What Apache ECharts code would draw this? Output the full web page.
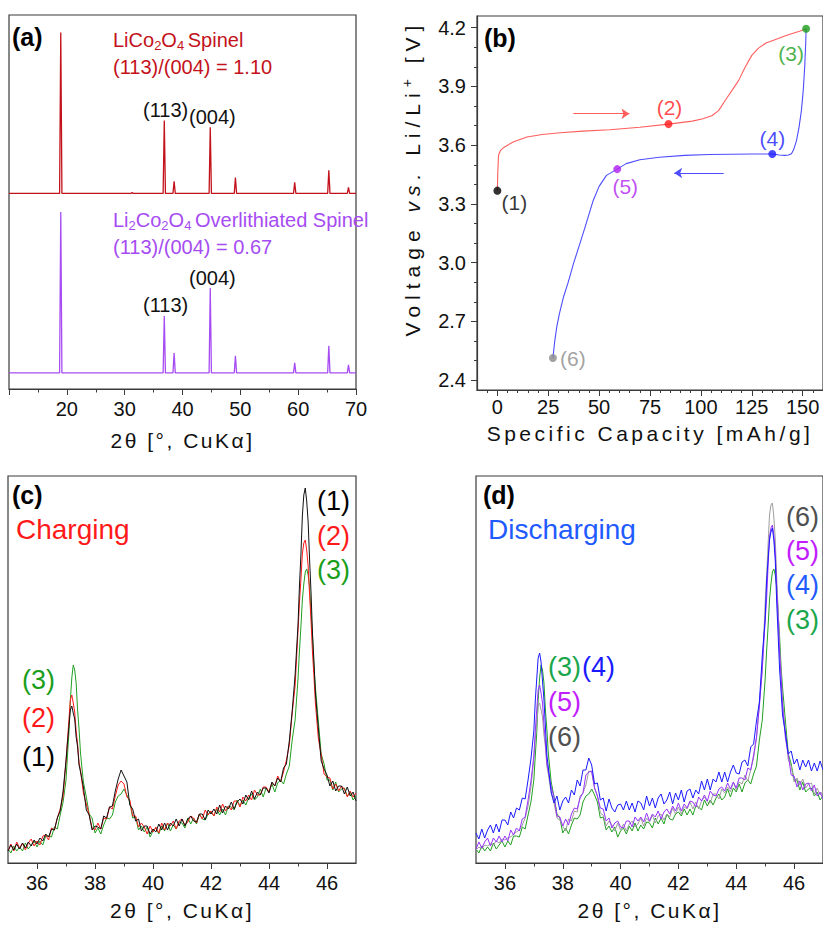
<!DOCTYPE html>
<html><head><meta charset="utf-8">
<script src="https://cdn.jsdelivr.net/npm/echarts@6/dist/echarts.min.js"></script>
<style>
html,body{margin:0;padding:0;background:#fff;}
#chart{width:823px;height:932px;}
text[style*="SpacedA"]{letter-spacing:3.5px;}
text[style*="SpacedB"]{letter-spacing:2.5px;}
text[style*="SpacedC"]{letter-spacing:6px;}
</style></head><body><div id="chart"></div>
<script>
// ---------------- Panel (a): XRD reference patterns ----------------
const xrdRange = [10, 70];
const xrdTicks = [20, 30, 40, 50, 60, 70];
const xrdPeaks2Theta = [18.95, 31.3, 36.85, 38.55, 44.8, 49.15, 59.4, 65.3, 68.7];
const spinelIntensity = [100, 0.6, 45.3, 7.5, 41.0, 9.9, 6.8, 14.3, 3.7];
const overlithIntensity = [100, 0, 35.4, 12.4, 52.8, 10.6, 6.2, 16.8, 5.0];
const spinelOffset = 121.5;
const overlithOffset = 10;

// ---------------- Panel (b): voltage profile ----------------
const chargeCap = [0, 0.2, 0.6, 1.5, 3.3, 8, 14.6, 22, 30.9, 42, 55.2, 70, 84.1, 95.8, 101, 105.6, 108.8, 112, 115.3, 118.5, 121.8, 125, 128.3, 132, 136.4, 140.5, 144.5, 148.5, 151.7];
const chargeV = [3.368, 3.46, 3.55, 3.572, 3.59, 3.618, 3.642, 3.655, 3.664, 3.672, 3.679, 3.692, 3.708, 3.723, 3.735, 3.752, 3.778, 3.83, 3.88, 3.93, 4.0, 4.059, 4.096, 4.122, 4.139, 4.155, 4.169, 4.182, 4.195];
const dischargeCap = [151.7, 151.5, 151.0, 150.3, 149.4, 148.2, 147.0, 145.6, 144.5, 143, 141.3, 138.5, 135.1, 125, 115, 103.9, 92, 79.6, 70, 63.3, 58.9, 53.6, 50, 47.1, 43.1, 40, 37.4, 34.8, 32.5, 30.5, 29.2, 28.2, 27.3];
const dischargeV = [4.195, 4.118, 3.999, 3.88, 3.778, 3.69, 3.625, 3.578, 3.557, 3.55, 3.548, 3.55, 3.555, 3.555, 3.554, 3.553, 3.548, 3.539, 3.526, 3.506, 3.478, 3.446, 3.39, 3.318, 3.182, 3.08, 2.995, 2.9, 2.825, 2.74, 2.672, 2.6, 2.513];
const stateCap = [0, 84.1, 151.7, 135.1, 58.9, 27.3];
const stateV = [3.368, 3.708, 4.195, 3.555, 3.478, 2.513];
const stateLabels = ['(1)', '(2)', '(3)', '(4)', '(5)', '(6)'];
const chargeArrowCap = [37.3, 64.9];
const chargeArrowV = 3.761;
const dischargeArrowCap = [111.2, 86.9];
const dischargeArrowV = 3.458;
const capTicks = [0, 25, 50, 75, 100, 125, 150];
const capMinor = [-5, 5, 10, 15, 20, 30, 35, 40, 45, 55, 60, 65, 70, 80, 85, 90, 95, 105, 110, 115, 120, 130, 135, 140, 145, 155];
const voltTicks = [2.4, 2.7, 3.0, 3.3, 3.6, 3.9, 4.2];
const voltMinor = [2.5, 2.6, 2.8, 2.9, 3.1, 3.2, 3.4, 3.5, 3.7, 3.8, 4.0, 4.1];

// ---------------- Panels (c)/(d): operando XRD (a.u.) ----------------
const thetaTicks = [36, 38, 40, 42, 44, 46];
const thetaMinor = [37, 39, 41, 43, 45];
const twoTheta = [35.0,35.1,35.2,35.3,35.4,35.5,35.6,35.7,35.8,35.9,36.0,36.1,36.2,36.3,36.4,36.5,36.6,36.7,36.8,36.9,37.0,
37.05,37.1,37.15,37.2,37.25,37.3,37.35,37.4,37.45,37.5,
37.6,37.7,37.8,37.9,38.0,38.1,38.2,38.3,38.4,38.5,38.6,38.7,38.8,38.9,39.0,39.1,39.2,39.3,39.4,39.5,39.6,39.7,39.8,39.9,40.0,
40.1,40.2,40.3,40.4,40.5,40.6,40.7,40.8,40.9,41.0,41.1,41.2,41.3,41.4,41.5,41.6,41.7,41.8,41.9,42.0,42.1,42.2,42.3,42.4,42.5,42.6,42.7,42.8,42.9,43.0,43.1,43.2,43.3,43.4,43.5,43.6,43.7,43.8,43.9,44.0,44.1,44.2,44.3,44.4,44.5,44.6,44.7,44.8,44.9,45.0,
45.05,45.1,45.15,45.2,45.25,45.3,45.35,45.4,45.45,45.5,45.55,45.6,
45.7,45.8,45.9,46.0,46.1,46.2,46.3,46.4,46.5,46.6,46.7,46.8,46.9,47.0];
const state1 = [12,18,13,19,14,20,15,21,17,23,19,25,22,29,26,34,33,45,52,72,102,
120,136,153,157,150,144,126,116,98,91,
76,53,48,33,37,36,34,47,45,56,57,72,84,93,87,81,58,54,42,44,32,37,37,29,34,
31,39,33,40,33,40,37,44,37,44,37,44,47,42,41,49,49,43,53,49,54,49,58,50,57,54,61,54,61,64,59,68,63,72,64,71,68,75,75,70,81,77,85,81,95,99,122,152,188,238,
277,308,347,368,375,362,341,303,270,229,202,170,
135,102,94,88,77,82,72,77,77,69,76,67,71,62];
const state2 = [12,19,12,21,15,20,13,20,24,17,22,18,27,28,23,35,33,45,54,67,102,
122,143,163,168,160,151,132,119,100,93,
70,59,48,35,33,40,34,45,44,56,54,67,78,82,79,66,63,47,47,36,40,36,29,37,31,
36,30,40,33,40,37,42,34,42,44,38,41,47,45,40,49,44,53,48,52,47,56,51,59,52,57,53,62,62,56,66,62,68,63,73,68,68,76,76,71,80,77,87,81,91,103,118,150,177,232,
260,283,309,320,323,313,297,268,242,210,187,160,
125,108,89,86,85,74,79,72,77,74,66,72,66,70];
const state3 = [14,10,17,12,16,12,20,14,18,22,16,22,18,27,27,26,36,34,48,61,83,
107,130,163,185,198,193,180,153,134,110,
81,66,49,45,30,35,29,38,45,44,48,61,67,69,74,68,61,45,46,33,37,31,36,26,32,
35,29,37,32,40,32,38,34,41,40,35,45,39,45,39,49,44,43,49,51,47,54,48,54,48,57,56,53,63,57,63,58,65,69,63,66,74,66,75,71,79,71,80,83,79,89,97,123,143,184,
212,236,263,279,291,294,288,276,250,226,196,176,
142,109,99,83,83,73,81,71,74,75,67,71,63,67];
const state4 = [30,24,34,25,33,38,30,39,31,43,43,38,51,45,55,53,65,64,83,104,132,
162,184,205,210,201,182,163,137,108,96,
71,60,67,53,62,66,60,73,68,83,77,93,93,105,98,79,80,63,65,52,64,55,51,58,59,
53,62,53,60,51,62,60,53,67,57,65,55,65,69,59,63,71,59,70,63,73,61,72,74,65,73,69,82,73,84,73,84,81,91,81,91,81,91,98,90,89,101,103,97,116,119,142,161,207,244,
282,303,323,331,335,323,302,260,227,193,172,148,
130,109,112,99,104,93,103,96,103,92,100,92,102,93];
const state5 = [14,21,15,21,25,17,25,21,27,21,27,22,33,28,35,32,44,46,63,82,107,
132,153,173,178,170,160,138,121,100,92,
76,66,47,46,37,44,38,49,55,54,65,70,88,91,92,75,67,55,54,42,45,35,40,42,36,
35,42,42,36,46,42,46,41,50,42,49,46,52,44,51,54,49,57,52,60,52,59,55,62,61,56,66,62,68,62,72,68,67,74,76,72,80,74,81,75,85,85,83,95,93,108,126,157,194,242,
264,296,326,335,338,328,310,274,245,210,186,158,
125,108,88,87,76,82,73,79,80,72,78,67,71,64];
const state6 = [13,16,14,18,17,19,18,22,20,24,23,25,26,29,31,33,38,45,57,76,104,
124,140,157,160,153,146,128,116,97,89,
70,60,45,43,37,32,44,42,52,51,67,70,78,92,91,75,67,50,48,37,42,38,32,40,33,
39,32,39,42,36,39,45,37,45,41,48,40,47,49,43,49,46,55,49,56,49,56,54,61,54,61,54,62,66,61,60,69,69,64,74,70,76,71,81,73,81,79,88,82,93,105,125,159,193,260,
287,318,348,358,360,346,323,285,252,216,191,163,
132,103,97,81,85,78,84,75,79,80,69,75,68,72];

// ---------------- styles ----------------
const FONT = "'Liberation Sans', Arial, sans-serif";
const FRAME = '#3a3a3a';
const TXT = '#111';
const C_SPINEL = '#c3121b';
const C_OVER = '#a64cf2';
const C_CH = '#ff5e5e';
const C_DIS = '#4d4dff';
const stateColors = ['#000000', '#ff1a1a', '#1a9e1a', '#1a1aff', '#b01ef0', '#8a8a8a'];
const stateLabelOffsets = [[17, 12], [1, -17], [-15, 25], [0, -16], [8, 17], [20, 0]];

function stickPattern(pos, inten, offset) {
  const pts = [[xrdRange[0], offset]];
  pos.forEach((p, i) => {
    if (inten[i] <= 0) return;
    pts.push([p - 0.2, offset], [p, offset + inten[i]], [p + 0.2, offset]);
  });
  pts.push([xrdRange[1], offset]);
  return pts;
}
const zip = (xs, ys) => xs.map((x, i) => [x, ys[i]]);

const mctx = document.createElement('canvas').getContext('2d');
function textW(t, size, style) { mctx.font = (style || '') + ' ' + size + 'px "Liberation Sans"'; return mctx.measureText(t).width; }
const ySp = 6;
const yTokens = [['a', 'Voltage ', 21, 'normal'], ['b', 'vs. ', 21, 'italic'], ['c', 'Li/Li', 21, 'normal'], ['d', '+ ', 14, 'normal'], ['e', '[V]', 21, 'normal']];
const yRich = {};
yTokens.forEach(([k, t, s, st]) => {
  yRich[k] = {fontSize: s, fontStyle: st, fontFamily: "'Liberation Sans', SpacedC", color: TXT,
    width: textW(t, s, st === 'italic' ? 'italic' : '') + ySp * t.length, align: 'left',
    lineHeight: k === 'd' ? 10 : 24, verticalAlign: k === 'd' ? 'top' : 'middle'};
});

function txt(text, x, y, size, color, weight) {
  return {type: 'text', x: x, y: y, z: 100, style: {text: text, fill: color, font: (weight || 'normal') + ' ' + size + 'px ' + FONT,
    align: 'left', textAlign: 'left', verticalAlign: 'middle', textVerticalAlign: 'middle'}};
}
function richTxt(text, x, y, color) {
  return {type: 'text', x: x, y: y, z: 100, style: {text: text, align: 'left', textAlign: 'left', verticalAlign: 'middle', textVerticalAlign: 'middle',
    rich: {m: {fontSize: 20, fontFamily: FONT, fill: color, lineHeight: 24, verticalAlign: 'middle'},
           s: {fontSize: 13, fontFamily: FONT, fill: color, lineHeight: 10, verticalAlign: 'bottom'}}}};
}

const xBase = (grid, min, max) => ({gridIndex: grid, type: 'value', min: min, max: max, splitLine: {show: false}, minorSplitLine: {show: false}});
const tickStyle = {color: FRAME, width: 1};
const labelStyle = {fontSize: 20, color: TXT, fontFamily: FONT};
const mainLine = {onZero: false, lineStyle: {color: FRAME, width: 1.2}};
const noLine = {show: false, onZero: false};

const xAxes = [
  Object.assign(xBase(0, xrdRange[0], xrdRange[1]), {
    axisLabel: Object.assign({customValues: xrdTicks, margin: 10}, labelStyle),
    axisTick: {customValues: [10].concat(xrdTicks), length: 6, lineStyle: tickStyle},
    axisLine: mainLine,
    name: '2θ [°, CuKα]', nameLocation: 'middle', nameGap: 41,
    nameTextStyle: {fontSize: 21, color: TXT, fontFamily: "'Liberation Sans', SpacedB"}}),
  Object.assign(xBase(0, xrdRange[0], xrdRange[1]), {position: 'bottom', axisLine: noLine, axisLabel: {show: false},
    axisTick: {customValues: [15, 25, 35, 45, 55, 65], length: 3.5, lineStyle: tickStyle}}),
  Object.assign(xBase(1, -10, 160), {
    axisLabel: Object.assign({customValues: capTicks, margin: 7}, labelStyle),
    axisTick: {customValues: capTicks, length: 6, lineStyle: tickStyle},
    axisLine: mainLine,
    name: 'Specific Capacity [mAh/g]', nameLocation: 'middle', nameGap: 33,
    nameTextStyle: {fontSize: 21, color: TXT, fontFamily: "'Liberation Sans', SpacedA"}}),
  Object.assign(xBase(1, -10, 160), {position: 'bottom', axisLine: noLine, axisLabel: {show: false},
    axisTick: {customValues: capMinor, length: 3, lineStyle: tickStyle}}),
  Object.assign(xBase(2, 35, 47), {
    axisLabel: Object.assign({customValues: thetaTicks, margin: 10}, labelStyle),
    axisTick: {customValues: thetaTicks, length: 6, lineStyle: tickStyle},
    axisLine: mainLine,
    name: '2θ [°, CuKα]', nameLocation: 'middle', nameGap: 37,
    nameTextStyle: {fontSize: 21, color: TXT, fontFamily: "'Liberation Sans', SpacedB"}}),
  Object.assign(xBase(2, 35, 47), {position: 'bottom', axisLine: noLine, axisLabel: {show: false},
    axisTick: {customValues: thetaMinor, length: 3.5, lineStyle: tickStyle}}),
  Object.assign(xBase(3, 35, 47), {
    axisLabel: Object.assign({customValues: thetaTicks, margin: 10}, labelStyle),
    axisTick: {customValues: thetaTicks, length: 6, lineStyle: tickStyle},
    axisLine: mainLine,
    name: '2θ [°, CuKα]', nameLocation: 'middle', nameGap: 37,
    nameTextStyle: {fontSize: 21, color: TXT, fontFamily: "'Liberation Sans', SpacedB"}}),
  Object.assign(xBase(3, 35, 47), {position: 'bottom', axisLine: noLine, axisLabel: {show: false},
    axisTick: {customValues: thetaMinor, length: 3.5, lineStyle: tickStyle}})
];
const hiddenY = (grid, min, max) => ({gridIndex: grid, type: 'value', min: min, max: max, axisLine: noLine, axisTick: {show: false}, axisLabel: {show: false}, splitLine: {show: false}});
const yAxes = [
  hiddenY(0, 0, 232.3),
  {gridIndex: 1, type: 'value', min: 2.35, max: 4.26, position: 'left', splitLine: {show: false},
    axisLine: mainLine,
    axisTick: {customValues: voltTicks, length: 6, lineStyle: tickStyle},
    axisLabel: Object.assign({customValues: voltTicks, margin: 11, formatter: v => v.toFixed(1)}, labelStyle),
    name: '{a|Voltage }{b|vs. }{c|Li/Li}{d|+ }{e|[V]}', nameLocation: 'middle', nameGap: 53, nameRotate: 90,
    nameTextStyle: {rich: yRich, padding: [0, 0, 0, 50]}},
  {gridIndex: 1, type: 'value', min: 2.35, max: 4.26, position: 'left', splitLine: {show: false}, axisLine: noLine, axisLabel: {show: false},
    axisTick: {customValues: voltMinor, length: 3, lineStyle: tickStyle}},
  hiddenY(2, 0, 387),
  hiddenY(3, 0, 387)
];

const lineS = (xi, yi, data, color, width) => ({type: 'line', xAxisIndex: xi, yAxisIndex: yi, data: data, showSymbol: false, symbol: 'none',
  lineStyle: {color: color, width: width || 1}, itemStyle: {color: color}, silent: true, z: 2});

const stateData = stateCap.map((c, i) => ({value: [c, stateV[i]], itemStyle: {color: stateColors[i]},
  label: {show: true, position: 'inside', formatter: stateLabels[i], offset: stateLabelOffsets[i], color: stateColors[i], fontSize: 21, fontFamily: FONT}}));

const series = [
  lineS(0, 0, stickPattern(xrdPeaks2Theta, spinelIntensity, spinelOffset), C_SPINEL, 1.3),
  lineS(0, 0, stickPattern(xrdPeaks2Theta, overlithIntensity, overlithOffset), C_OVER, 1.3),
  lineS(2, 1, zip(chargeCap, chargeV), C_CH, 1.1),
  lineS(2, 1, zip(dischargeCap, dischargeV), C_DIS, 1.1),
  {type: 'lines', coordinateSystem: 'cartesian2d', xAxisIndex: 2, yAxisIndex: 1, symbol: ['none', 'arrow'], symbolSize: [0, 8],
    lineStyle: {color: C_CH, width: 1, opacity: 1}, data: [{coords: [[chargeArrowCap[0], chargeArrowV], [chargeArrowCap[1], chargeArrowV]]}]},
  {type: 'lines', coordinateSystem: 'cartesian2d', xAxisIndex: 2, yAxisIndex: 1, symbol: ['none', 'arrow'], symbolSize: [0, 8],
    lineStyle: {color: C_DIS, width: 1, opacity: 1}, data: [{coords: [[dischargeArrowCap[0], dischargeArrowV], [dischargeArrowCap[1], dischargeArrowV]]}]},
  {type: 'scatter', xAxisIndex: 2, yAxisIndex: 1, symbolSize: 8, data: stateData, z: 5},
  lineS(4, 3, zip(twoTheta, state3), '#22a022'),
  lineS(4, 3, zip(twoTheta, state2), '#ff1a1a'),
  lineS(4, 3, zip(twoTheta, state1), '#111111'),
  lineS(6, 4, zip(twoTheta, state3), '#22a022'),
  lineS(6, 4, zip(twoTheta, state6), '#9e9e9e'),
  lineS(6, 4, zip(twoTheta, state5), '#9933ff'),
  lineS(6, 4, zip(twoTheta, state4), '#1a1aff')
];

const graphics = [
  txt('(a)', 12, 37, 25, '#000', 'bold'),
  richTxt('{m|LiCo}{s|2}{m|O}{s|4 }{m|Spinel}', 113, 40, C_SPINEL),
  txt('(113)/(004) = 1.10', 113, 67, 20, C_SPINEL),
  txt('(113)', 143, 110, 20, TXT),
  txt('(004)', 189, 117, 20, TXT),
  richTxt('{m|Li}{s|2}{m|Co}{s|2}{m|O}{s|4 }{m|Overlithiated Spinel}', 113, 220, C_OVER),
  txt('(113)/(004) = 0.67', 113, 247, 20, C_OVER),
  txt('(004)', 189, 278, 20, TXT),
  txt('(113)', 143, 305, 20, TXT),
  txt('(b)', 484, 38, 25, '#000', 'bold'),
  txt('(c)', 12, 495, 25, '#000', 'bold'),
  txt('Charging', 16, 529, 28, '#ff1a1a'),
  txt('(1)', 317, 501, 27, '#000'),
  txt('(2)', 317, 536, 27, '#ff1a1a'),
  txt('(3)', 317, 570, 27, '#1a9e1a'),
  txt('(3)', 22, 680, 27, '#1a9e1a'),
  txt('(2)', 22, 718, 27, '#ff1a1a'),
  txt('(1)', 22, 757, 27, '#000'),
  txt('(d)', 483, 495, 25, '#000', 'bold'),
  txt('Discharging', 488, 529, 28, '#1f5bff'),
  txt('(6)', 786, 517, 27, '#505050'),
  txt('(5)', 786, 551, 27, '#c21cff'),
  txt('(4)', 786, 585, 27, '#1f5bff'),
  txt('(3)', 786, 620, 27, '#1aa64a'),
  txt('(3)', 548, 667, 27, '#1aa64a'),
  txt('(4)', 582, 667, 27, '#1a1aff'),
  txt('(5)', 548, 702, 27, '#c21cff'),
  txt('(6)', 548, 737, 27, '#505050')
];

const gridStyle = {show: true, borderColor: FRAME, borderWidth: 1.2, backgroundColor: 'transparent', containLabel: false};
const option = {
  animation: false,
  backgroundColor: '#ffffff',
  textStyle: {fontFamily: FONT},
  grid: [
    Object.assign({left: 9, top: 15, width: 347, height: 374}, gridStyle),
    Object.assign({left: 477, top: 16, width: 350, height: 374}, gridStyle),
    Object.assign({left: 8, top: 476, width: 348, height: 387}, gridStyle),
    Object.assign({left: 476, top: 476, width: 348, height: 387}, gridStyle)
  ],
  xAxis: xAxes,
  yAxis: yAxes,
  series: series,
  graphic: graphics
};
const chart = echarts.init(document.getElementById('chart'), null, {renderer: 'svg'});
chart.setOption(option);
</script></body></html>
